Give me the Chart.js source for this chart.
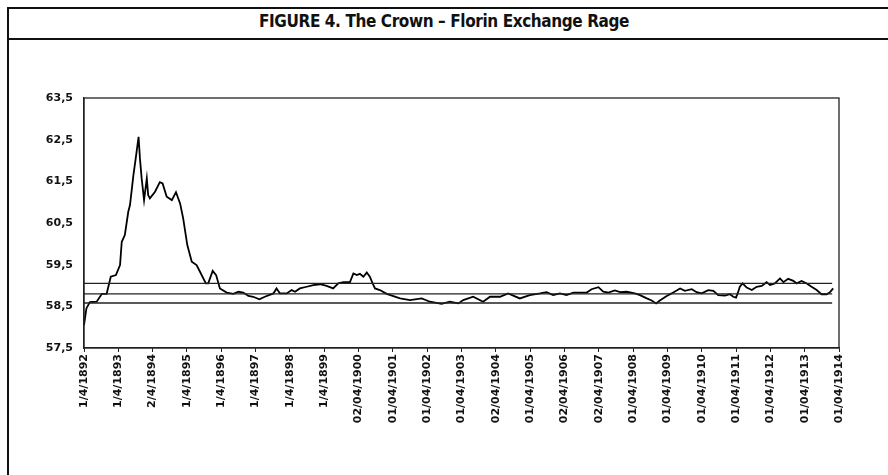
<!DOCTYPE html>
<html>
<head>
<meta charset="utf-8">
<script src="https://cdn.jsdelivr.net/npm/chart.js@4"></script>
<style>
  html, body { margin: 0; padding: 0; background: #fff; }
  body { width: 888px; height: 475px; position: relative; overflow: hidden; }
  .frame { position: absolute; left: 7px; top: 7px; width: 900px; height: 500px;
           border-left: 2px solid #111; border-top: 2px solid #111; }
  .title-rule { position: absolute; left: 7px; top: 38px; width: 881px; height: 0;
                border-top: 2px solid #111; }
  .title { position: absolute; left: 0; top: 11px; width: 888px; text-align: center;
           font: bold 17px "DejaVu Sans Condensed", "Liberation Sans Narrow", "DejaVu Sans", sans-serif;
           letter-spacing: -0.4px; color: #111; }
  .chart-box { position: absolute; left: 0; top: 50px; width: 888px; height: 425px; }
</style>
</head>
<body>
<div class="frame"></div>
<div class="title-rule"></div>
<div class="title">FIGURE 4. The Crown – Florin Exchange Rage</div>
<div class="chart-box"><canvas id="chart"></canvas></div>
<script>
// x tick labels, one per year (1 April)
const tickLabels = [
  "1/4/1892", "1/4/1893", "2/4/1894", "1/4/1895", "1/4/1896", "1/4/1897",
  "1/4/1898", "1/4/1899", "02/04/1900", "01/04/1901", "01/04/1902", "01/04/1903",
  "02/04/1904", "01/04/1905", "02/04/1906", "02/04/1907", "01/04/1908", "01/04/1909",
  "01/04/1910", "01/04/1911", "01/04/1912", "01/04/1913", "01/04/1914"
];

// years elapsed since 1 April 1892
const yearsSince = [
  0.00, 0.07, 0.17, 0.37, 0.52, 0.66, 0.78, 0.93, 1.05, 1.10, 1.19, 1.29, 1.34, 1.44,
  1.52, 1.59, 1.63, 1.68, 1.75, 1.83, 1.87, 1.92, 2.07, 2.21, 2.29, 2.41, 2.56, 2.68,
  2.80, 2.89, 3.01, 3.14, 3.28, 3.38, 3.55, 3.62, 3.75, 3.85, 3.96, 4.16, 4.35, 4.50,
  4.64, 4.79, 4.93, 5.11, 5.27, 5.52, 5.61, 5.71, 5.91, 6.05, 6.15, 6.29, 6.49, 6.68,
  6.88, 7.07, 7.26, 7.41, 7.56, 7.75, 7.85, 7.95, 8.04, 8.14, 8.24, 8.33, 8.41, 8.48,
  8.62, 8.82, 9.21, 9.50, 9.84, 10.08, 10.42, 10.66, 10.91, 11.05, 11.34, 11.63, 11.83,
  12.12, 12.36, 12.70, 12.99, 13.29, 13.48, 13.67, 13.87, 14.06, 14.26, 14.65, 14.79,
  14.99, 15.13, 15.28, 15.47, 15.62, 15.81, 16.05, 16.20, 16.40, 16.54, 16.67, 16.78,
  16.98, 17.12, 17.27, 17.37, 17.51, 17.71, 17.85, 18.00, 18.19, 18.34, 18.48, 18.68,
  18.82, 18.92, 19.00, 19.06, 19.11, 19.19, 19.31, 19.46, 19.60, 19.75, 19.89, 19.99,
  20.13, 20.28, 20.38, 20.52, 20.67, 20.77, 20.91, 21.06, 21.20, 21.35, 21.49, 21.64,
  21.74, 21.83
];

// crowns per 50 florins
const rates = [
  58.05, 58.45, 58.60, 58.61, 58.80, 58.80, 59.21, 59.25, 59.49, 60.05, 60.21, 60.77, 60.93, 61.65,
  62.13, 62.57, 62.05, 61.57, 61.05, 61.57, 61.17, 61.09, 61.25, 61.48, 61.45, 61.13, 61.05, 61.24,
  60.97, 60.61, 59.97, 59.57, 59.49, 59.33, 59.05, 59.05, 59.35, 59.25, 58.93, 58.83, 58.80, 58.85,
  58.83, 58.75, 58.73, 58.67, 58.73, 58.81, 58.93, 58.81, 58.81, 58.89, 58.85, 58.93, 58.97, 59.01,
  59.03, 58.99, 58.93, 59.05, 59.08, 59.08, 59.29, 59.25, 59.28, 59.21, 59.31, 59.21, 59.05, 58.93,
  58.89, 58.80, 58.69, 58.65, 58.69, 58.61, 58.56, 58.61, 58.57, 58.65, 58.73, 58.61, 58.73,
  58.73, 58.81, 58.69, 58.77, 58.81, 58.84, 58.77, 58.81, 58.77, 58.83, 58.83, 58.91,
  58.96, 58.85, 58.83, 58.88, 58.84, 58.85, 58.81, 58.77, 58.69, 58.64, 58.57, 58.64,
  58.75, 58.81, 58.88, 58.93, 58.87, 58.91, 58.84, 58.81, 58.89, 58.87, 58.77, 58.76,
  58.79, 58.73, 58.71, 58.84, 58.97, 59.05, 58.95, 58.89, 58.97, 58.99, 59.08, 59.01,
  59.05, 59.17, 59.08, 59.16, 59.11, 59.05, 59.11, 59.05, 58.97, 58.89, 58.79, 58.79,
  58.84, 58.93
];

// reference bands: upper, middle, lower
const bandLevels = [59.05, 58.80, 58.58];
const bandSpan = [0, 21.8];

const FONT = "'DejaVu Sans', 'Liberation Sans', sans-serif";

const seriesPoints = yearsSince.map((t, i) => ({ x: t, y: rates[i] }));
const bandSets = bandLevels.map((lvl) => ({
  data: bandSpan.map((t) => ({ x: t, y: lvl })),
  borderColor: "#222",
  borderWidth: 1.3,
  pointRadius: 0,
  tension: 0,
}));

// box round the plot (top and right edges)
const plotBox = {
  id: "plotBox",
  afterDraw(chart) {
    const { ctx, chartArea: a } = chart;
    ctx.save();
    ctx.strokeStyle = "#222";
    ctx.lineWidth = 1.3;
    ctx.strokeRect(a.left, a.top, a.right - a.left, a.bottom - a.top);
    ctx.restore();
  },
};

new Chart(document.getElementById("chart").getContext("2d"), {
  type: "line",
  data: {
    datasets: [
      ...bandSets,
      {
        data: seriesPoints,
        borderColor: "#000",
        borderWidth: 1.8,
        pointRadius: 0,
        tension: 0,
      },
    ],
  },
  options: {
    responsive: true,
    maintainAspectRatio: false,
    animation: false,
    layout: { padding: { left: 24, top: 48, right: 49, bottom: 0 } },
    plugins: { legend: { display: false }, tooltip: { enabled: false } },
    scales: {
      x: {
        type: "linear",
        min: 0,
        max: 22,
        afterFit: (s) => { s.height = 127; },
        border: { color: "#222", width: 1.3 },
        grid: { drawOnChartArea: false, drawTicks: true, tickLength: 4, color: "#222" },
        ticks: {
          stepSize: 1,
          autoSkip: false,
          minRotation: 90,
          maxRotation: 90,
          padding: 2,
          color: "#111",
          font: { family: FONT, size: 11, weight: "bold" },
          callback: (v) => tickLabels[v],
        },
      },
      y: {
        min: 57.5,
        max: 63.5,
        afterFit: (s) => { s.width = 60; },
        border: { color: "#222", width: 1.3 },
        grid: { drawOnChartArea: false, drawTicks: false },
        ticks: {
          stepSize: 1,
          padding: 11,
          color: "#111",
          font: { family: FONT, size: 11, weight: "bold" },
          callback: (v) => v.toFixed(1).replace(".", ","),
        },
      },
    },
  },
  plugins: [plotBox],
});
</script>
</body>
</html>
